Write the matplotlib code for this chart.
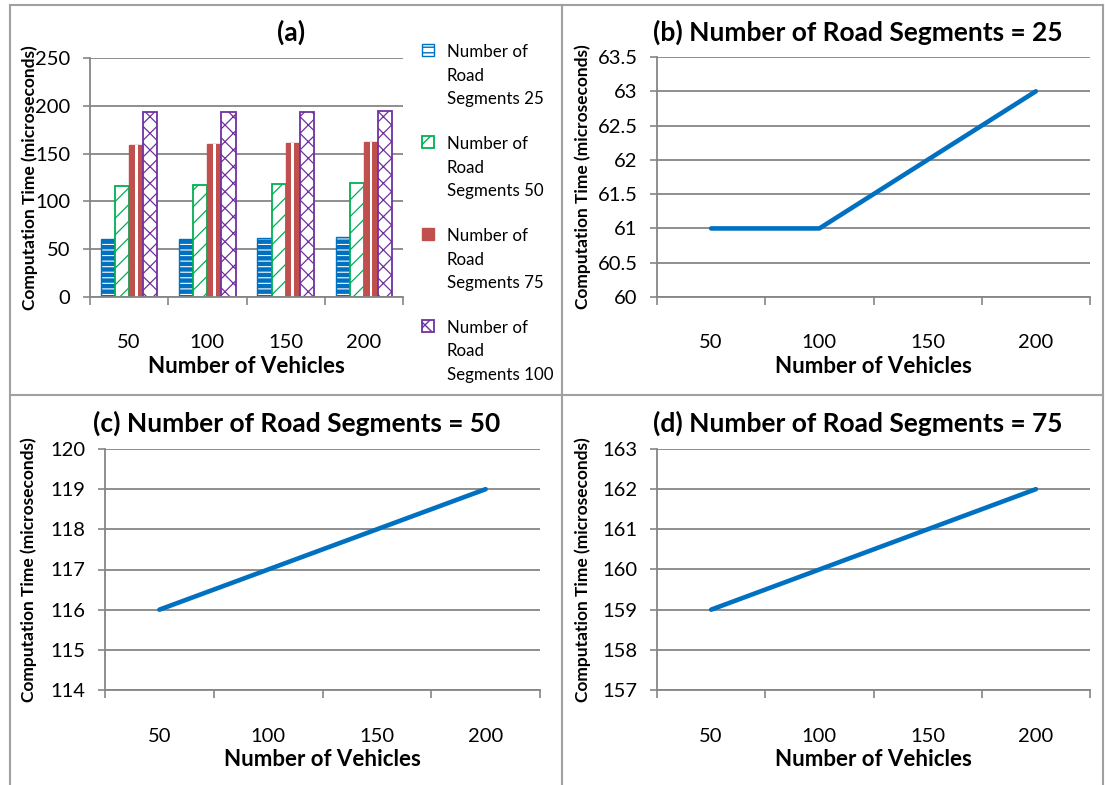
import numpy as np
import matplotlib
matplotlib.use("Agg")
import matplotlib.pyplot as plt
from matplotlib.lines import Line2D

plt.rcParams["font.family"] = ["Lato", "DejaVu Sans"]

# data
vehicles = ["50", "100", "150", "200"]
seg25 = [61, 61, 62, 63]
seg50 = [116, 117, 118, 119]
seg75 = [159, 160, 161, 162]
seg100 = [193, 194, 193, 195]
seg_labels = ["Number of\nRoad\nSegments 25", "Number of\nRoad\nSegments 50",
              "Number of\nRoad\nSegments 75", "Number of\nRoad\nSegments 100"]

titles = ["(a)", "(b) Number of Road Segments = 25",
          "(c) Number of Road Segments = 50", "(d) Number of Road Segments = 75"]
b_ticks = [60, 60.5, 61, 61.5, 62, 62.5, 63, 63.5]
c_ticks = [114, 115, 116, 117, 118, 119, 120]
d_ticks = [157, 158, 159, 160, 161, 162, 163]
a_ticks = [0, 50, 100, 150, 200, 250]

W, H = 1105, 785
GRID = "#868686"
BLUE = "#0070C0"


def px_axes(fig, left, right, top, bottom):
    return fig.add_axes([left / W, 1 - bottom / H, (right - left) / W, (bottom - top) / H])


def style_axes(ax, yticks, ylab_x):
    n = len(vehicles)
    ax.set_xlim(-0.5, n - 0.5)
    ax.set_ylim(yticks[0], yticks[-1])
    ax.set_yticks(yticks)
    ax.set_yticklabels([f"{t:g}" for t in yticks])
    ax.set_xticks(np.arange(n))
    ax.set_xticklabels(vehicles)
    ax.set_xticks(np.arange(n + 1) - 0.5, minor=True)
    ax.tick_params(axis="x", which="major", length=0, pad=27, labelsize=14.5)
    ax.tick_params(axis="x", which="minor", length=6, width=1.2, color=GRID, direction="out")
    ax.tick_params(axis="y", length=5, width=1.2, color=GRID, pad=9, labelsize=14.5)
    ax.yaxis.grid(True, color=GRID, lw=1.3)
    ax.set_axisbelow(True)
    for s in ["top", "right"]:
        ax.spines[s].set_visible(False)
    for s in ["left", "bottom"]:
        ax.spines[s].set_color(GRID)
        ax.spines[s].set_linewidth(1.3)
    ax.set_xlabel("Number of Vehicles", fontsize=16, fontweight="bold", labelpad=3)
    ax.set_ylabel("Computation Time (microseconds)", fontsize=12.5, fontweight="bold")
    pos = ax.get_position()
    ax.yaxis.set_label_coords(ylab_x / W, pos.y0 + pos.height / 2, transform=ax.figure.transFigure)


fig = plt.figure(figsize=(W / 100, H / 100), dpi=100)

# panel borders
for xs, ys in [([10, 1103], [5, 5]), ([10, 10], [5, 785]), ([562, 562], [5, 785]),
               ([10, 1103], [395, 395]), ([1103, 1103], [5, 785])]:
    fig.add_artist(Line2D([x / W for x in xs], [1 - y / H for y in ys],
                          transform=fig.transFigure, color="#A0A0A0", lw=1.5))

# (a) grouped bars
ax_a = px_axes(fig, 90, 403, 58, 297)
x = np.arange(len(vehicles))
bw = 0.18
with plt.rc_context({"hatch.linewidth": 3.2}):
    b1 = ax_a.bar(x - 1.5 * bw, seg25, bw, facecolor="white", edgecolor=BLUE,
                  hatch="---", lw=1.0, label=seg_labels[0])
with plt.rc_context({"hatch.linewidth": 0.9}):
    b2 = ax_a.bar(x - 0.5 * bw, seg50, bw, facecolor="white", edgecolor="#00B050",
                  hatch="//", lw=1.3, label=seg_labels[1])
    b3 = ax_a.bar(x + 0.5 * bw, seg75, bw, facecolor="#C0504D", edgecolor="#C0504D",
                  lw=1.0, label=seg_labels[2])
    ax_a.bar(x + 0.5 * bw, seg75, bw * 0.2, facecolor="white", edgecolor="none")
    b4 = ax_a.bar(x + 1.5 * bw, seg100, bw, facecolor="white", edgecolor="#7030A0",
                  hatch="xx", lw=1.3, label=seg_labels[3])
style_axes(ax_a, a_ticks, 38)
leg = ax_a.legend(handles=[b1, b2, b3, b4], loc="upper left", bbox_to_anchor=(1.04, 1.085),
                  frameon=False, fontsize=12.2, handlelength=0.7, handleheight=0.7,
                  handletextpad=0.75, labelspacing=1.75, borderaxespad=0)
for col in leg._legend_handle_box.get_children():
    for item in col.get_children():
        item.align = "top"
for t in leg.get_texts():
    t.set_linespacing(1.55)

# line panels
line_panels = [(seg25, b_ticks, (657, 1090, 57, 297), 591),
               (seg50, c_ticks, (105, 540, 449, 690), 37),
               (seg75, d_ticks, (657, 1090, 449, 690), 591)]
for vals, ticks, box, ylx in line_panels:
    ax = px_axes(fig, *box)
    ax.plot(x, vals, color=BLUE, lw=3.3, solid_capstyle="round")
    style_axes(ax, ticks, ylx)

# titles
for t, (cx, cy) in zip(titles, [(291, 32), (858, 32), (297, 423), (858, 423)]):
    fig.text(cx / W, 1 - cy / H, t, ha="center", va="center", fontsize=19, fontweight="bold")

fig.savefig("out.png", dpi=100)
